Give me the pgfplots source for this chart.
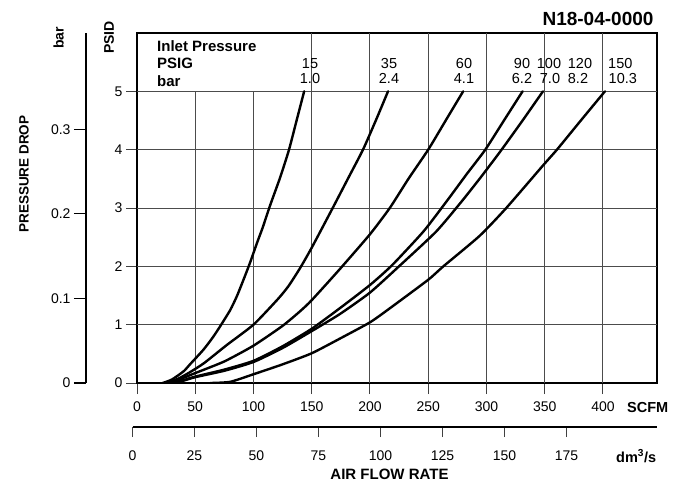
\documentclass[border=0pt]{standalone}
\usepackage{fontspec}
\setmainfont{Liberation Sans}
\usepackage{pgfplots}
\pgfplotsset{compat=1.18}
\begin{document}
\begin{tikzpicture}[x=1pt,y=1pt]
\useasboundingbox (0,0) rectangle (682,483);
\tikzset{gridl/.style={black!70, line width=1pt}, crv/.style={black, line width=2.4pt, line join=round, line cap=round, smooth, tension=0.35}}
\begin{axis}[
 at={(137pt,100pt)}, anchor=south west,
 scale only axis, width=520pt, height=350pt,
 xmin=0, xmax=446.4, ymin=0, ymax=6,
 xtick={0,50,...,400}, ytick={0,1,...,5},
 tick align=outside, xtick pos=left, ytick pos=left,
 major tick length=11pt,
 tick style={black!75, line width=1pt},
 axis line style={line width=1.8pt},
 tick label style={font=\fontsize{14}{16}\selectfont},
 xticklabel style={yshift=-4pt},
 /pgf/number format/assume math mode=true,
]
% grid
\draw[gridl] (50,0) -- (50,5);
\draw[gridl] (100,0) -- (100,5);
\draw[gridl] (150,0) -- (150,6);
\draw[gridl] (200,0) -- (200,6);
\draw[gridl] (250,0) -- (250,6);
\draw[gridl] (300,0) -- (300,6);
\draw[gridl] (350,0) -- (350,6);
\draw[gridl] (400,0) -- (400,6);
\draw[gridl] (0,1) -- (446.4,1);
\draw[gridl] (0,2) -- (446.4,2);
\draw[gridl] (0,3) -- (446.4,3);
\draw[gridl] (0,4) -- (446.4,4);
\draw[gridl] (0,5) -- (446.4,5);
% 15 psig
\addplot[crv] coordinates {(22,0) (30,0.06) (40,0.2) (45.5,0.32) (57,0.57) (65,0.78) (71,0.96) (80,1.25) (86,1.5) (92,1.8) (97,2.06) (103,2.4) (108,2.67) (114,3.03) (123,3.53) (130.5,4.0) (137,4.5) (143.5,5.0)};
% 35 psig
\addplot[crv] coordinates {(25,0) (35,0.07) (45,0.18) (57.5,0.34) (77,0.65) (100,1.0) (121,1.44) (130,1.66) (140,1.97) (150,2.32) (168,3.0) (181,3.5) (194,4.0) (205,4.5) (215.5,5.0)};
% 60 psig
\addplot[crv] coordinates {(27,0) (35,0.05) (50,0.17) (75,0.37) (100,0.64) (125,0.98) (140,1.23) (150,1.42) (174,1.95) (200,2.55) (217,3.0) (233,3.5) (250,4.0) (265,4.5) (280,5.0)};
% 90 psig
\addplot[crv] coordinates {(30,0) (40,0.05) (50,0.11) (75,0.23) (100,0.38) (125,0.63) (150,0.93) (174,1.28) (200,1.68) (219,2.02) (246,2.6) (266,3.12) (283,3.58) (299,4.0) (315,4.5) (331,5.0)};
% 100/120 psig
\addplot[crv] coordinates {(32,0) (40,0.04) (50,0.1) (75,0.21) (100,0.36) (125,0.6) (150,0.89) (174,1.18) (200,1.55) (226,2.02) (257,2.6) (279,3.12) (296,3.55) (313,4.0) (331,4.5) (348.5,5.0)};
% 150 psig
\addplot[crv] coordinates {(63,0) (80,0.02) (100,0.15) (125,0.32) (150,0.51) (175,0.77) (200,1.04) (217,1.28) (250,1.77) (263,2.0) (294,2.52) (317,3.0) (349,3.74) (360.5,4.0) (381,4.5) (401.7,5.0)};
\end{axis}
% bar axis
\begin{axis}[
 at={(86pt,100pt)}, anchor=south west,
 scale only axis, width=10pt, height=350pt,
 xmin=0, xmax=1, ymin=0, ymax=0.413686,
 axis x line=none, axis y line=left,
 axis line style={-, line width=1.8pt},
 ytick={0,0.1,0.2,0.3}, tick align=outside, major tick length=12pt,
 tick style={black, line width=1.2pt},
 tick label style={font=\fontsize{14}{16}\selectfont},
 yticklabel style={/pgf/number format/fixed, /pgf/number format/precision=1},
 /pgf/number format/assume math mode=true,
]
\addplot[draw=none] coordinates {(0,0) (1,0.4)};
\end{axis}
% dm3/s axis
\begin{axis}[
 at={(132.5pt,56pt)}, anchor=south west,
 scale only axis, width=524.5pt, height=10pt,
 xmin=0, xmax=211.5, ymin=0, ymax=1,
 axis y line=none, axis x line=bottom,
 axis line style={-, line width=1.8pt},
 xtick={0,25,...,175}, tick align=outside, major tick length=10pt,
 tick style={black!75, line width=1.2pt},
 tick label style={font=\fontsize{14}{16}\selectfont},
 xticklabel style={yshift=-10pt},
 /pgf/number format/assume math mode=true,
]
\addplot[draw=none] coordinates {(0,0) (200,1)};
\end{axis}
% texts
\node[anchor=east, font=\bfseries\fontsize{19}{22}\selectfont] at (657,464.5) {N18-04-0000};
\node[rotate=90, font=\bfseries\fontsize{14}{16}\selectfont] at (109,445.5) {PSID};
\node[rotate=90, font=\bfseries\fontsize{14}{16}\selectfont] at (58.5,445) {bar};
\node[rotate=90, font=\bfseries\fontsize{13.5}{16}\selectfont] at (24,309) {PRESSURE DROP};
\node[anchor=west, font=\bfseries\fontsize{14.5}{16}\selectfont, inner sep=0pt] at (627,75) {SCFM};
\node[anchor=base west, font=\bfseries\fontsize{14.5}{16}\selectfont, inner sep=0pt] at (616,21) {dm\textsuperscript{3}/s};
\node[font=\bfseries\fontsize{15}{16}\selectfont] at (389.5,9) {AIR FLOW RATE};
\begin{scope}[every node/.style={inner sep=0pt, font=\fontsize{14.5}{16}\selectfont}]
\node[anchor=base west, font=\bfseries\fontsize{15}{16}\selectfont] at (157,431) {Inlet Pressure};
\node[anchor=base west, font=\bfseries\fontsize{15}{16}\selectfont] at (157,414) {PSIG};
\node[anchor=base west, font=\bfseries\fontsize{15}{16}\selectfont] at (157,396) {bar};
\node[anchor=base] at (310,414) {15};
\node[anchor=base] at (310,399.7) {1.0};
\node[anchor=base] at (389,414) {35};
\node[anchor=base] at (389,399.7) {2.4};
\node[anchor=base] at (464,414) {60};
\node[anchor=base] at (464,399.7) {4.1};
\node[anchor=base] at (522,414) {90};
\node[anchor=base] at (522,399.7) {6.2};
\node[anchor=base] at (549,414) {100};
\node[anchor=base] at (550,399.7) {7.0};
\node[anchor=base] at (580,414) {120};
\node[anchor=base] at (578,399.7) {8.2};
\node[anchor=base west] at (608,414) {150};
\node[anchor=base west] at (608.5,399.7) {10.3};
\end{scope}
\end{tikzpicture}
\end{document}
